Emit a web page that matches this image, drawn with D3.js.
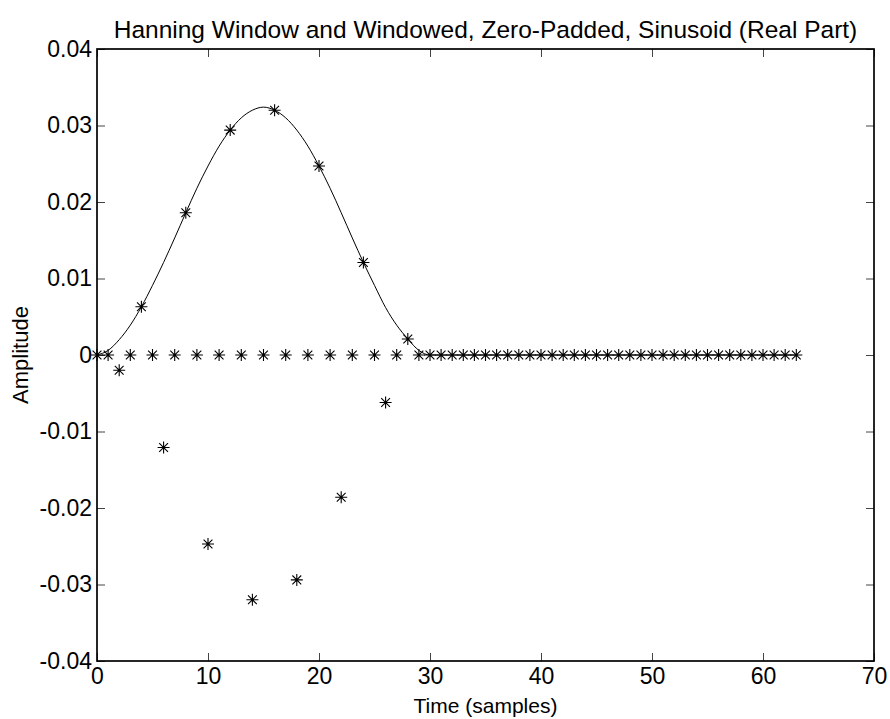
<!DOCTYPE html>
<html>
<head>
<meta charset="utf-8">
<script src="https://cdn.jsdelivr.net/npm/d3@7"></script>
<style>
  body { margin: 0; background: #fff; }
  svg { display: block; font-family: "Liberation Sans", Arial, Helvetica, sans-serif; }
</style>
</head>
<body>
<svg id="chart" width="890" height="719"></svg>
<script>
// sample index 0..63 (31 window samples + zero padding)
var samples = [0,1,2,3,4,5,6,7,8,9,10,11,12,13,14,15,16,17,18,19,20,21,22,23,24,25,26,27,28,29,30,31,
               32,33,34,35,36,37,38,39,40,41,42,43,44,45,46,47,48,49,50,51,52,53,54,55,56,57,58,59,60,61,62,63];

// hanning window (solid line)
var windowVals = [0, 0.0006, 0.0020, 0.0039, 0.0063, 0.0091, 0.0121, 0.0153, 0.0186, 0.0218,
                  0.0247, 0.0273, 0.0294, 0.0310, 0.0320, 0.0324, 0.0320, 0.0310, 0.0294, 0.0273,
                  0.0247, 0.0218, 0.0186, 0.0153, 0.0121, 0.0091, 0.0062, 0.0039, 0.0021, 0.0006,
                  0, 0, 0, 0, 0, 0, 0, 0, 0, 0, 0, 0, 0, 0, 0, 0, 0, 0, 0, 0, 0, 0, 0, 0, 0, 0, 0, 0, 0, 0, 0, 0, 0, 0];

// windowed sinusoid, real part (asterisks)
var signalVals = [0, 0, -0.0020, 0, 0.0063, 0, -0.0121, 0, 0.0186, 0,
                  -0.0247, 0, 0.0294, 0, -0.0320, 0, 0.0320, 0, -0.0294, 0,
                  0.0247, 0, -0.0186, 0, 0.0121, 0, -0.0062, 0, 0.0021, 0,
                  0, 0, 0, 0, 0, 0, 0, 0, 0, 0, 0, 0, 0, 0, 0, 0, 0, 0, 0, 0, 0, 0, 0, 0, 0, 0, 0, 0, 0, 0, 0, 0, 0, 0];

var xTicks = [0, 10, 20, 30, 40, 50, 60, 70];
var yTicks = [-0.04, -0.03, -0.02, -0.01, 0, 0.01, 0.02, 0.03, 0.04];

var titleText = "Hanning Window and Windowed, Zero-Padded, Sinusoid (Real Part)";
var xLabel = "Time (samples)";
var yLabel = "Amplitude";

var svg = d3.select("#chart");
var margin = {top: 49, right: 16, bottom: 58, left: 97};
var width = 890 - margin.left - margin.right;
var height = 719 - margin.top - margin.bottom;
var g = svg.append("g").attr("transform", "translate(" + margin.left + "," + margin.top + ")");

var xscale = d3.scaleLinear().domain([0, 70]).range([0, width]);
var yscale = d3.scaleLinear().domain([-0.04, 0.04]).range([height, 0]);

var fmt = function(d) { return d === 0 ? "0" : d.toFixed(2); };
var tickLen = 8;

// axes, ticks pointing inward on all four sides
var gx = g.append("g").attr("class", "x_axis")
    .attr("transform", "translate(0," + height + ")")
    .call(d3.axisBottom(xscale).tickValues(xTicks).tickSizeInner(-tickLen).tickSizeOuter(0).tickPadding(7).tickFormat(d3.format("d")));
var gy = g.append("g").attr("class", "y_axis")
    .call(d3.axisLeft(yscale).tickValues(yTicks).tickSizeInner(-tickLen).tickSizeOuter(0).tickPadding(5).tickFormat(fmt));
var gt = g.append("g")
    .call(d3.axisTop(xscale).tickValues(xTicks).tickSizeInner(-tickLen).tickSizeOuter(0).tickFormat(""));
var gr = g.append("g")
    .attr("transform", "translate(" + width + ",0)")
    .call(d3.axisRight(yscale).tickValues(yTicks).tickSizeInner(-tickLen).tickSizeOuter(0).tickFormat(""));

[gx, gy, gt, gr].forEach(function(a) {
    a.select(".domain").remove();
    a.selectAll(".tick line").attr("stroke", "#444").attr("stroke-width", 1);
    a.selectAll("text").attr("font-size", 23).attr("fill", "#000")
        .attr("font-family", "'Liberation Sans', Arial, sans-serif");
});
gx.selectAll("text").attr("dy", "0.71em");

// hanning curve
var line = d3.line()
    .x(function(d, i) { return xscale(samples[i]); })
    .y(function(d) { return yscale(d); })
    .curve(d3.curveMonotoneX);

g.append("path")
    .datum(windowVals)
    .attr("d", line)
    .attr("fill", "none")
    .attr("stroke", "#000")
    .attr("stroke-width", 1);

// asterisk markers
var r = 6, rd = 4.4;
var star = "M" + (-r) + ",0H" + r + "M0," + (-r) + "V" + r +
           "M" + (-rd) + "," + (-rd) + "L" + rd + "," + rd +
           "M" + (-rd) + "," + rd + "L" + rd + "," + (-rd);

g.append("g")
    .selectAll("path")
    .data(signalVals)
    .enter().append("path")
    .attr("transform", function(d, i) { return "translate(" + xscale(samples[i]) + "," + yscale(d) + ")"; })
    .attr("d", star)
    .attr("fill", "none")
    .attr("stroke", "#000")
    .attr("stroke-width", 1.1);

// axes box
g.append("rect")
    .attr("x", 0).attr("y", 0)
    .attr("width", width).attr("height", height)
    .attr("fill", "none")
    .attr("stroke", "#000")
    .attr("stroke-width", 1.7);

// title and labels
svg.append("text")
    .attr("x", margin.left + width / 2)
    .attr("y", 38)
    .attr("text-anchor", "middle")
    .attr("font-size", 24.5)
    .text(titleText);

svg.append("text")
    .attr("x", margin.left + width / 2)
    .attr("y", 713)
    .attr("text-anchor", "middle")
    .attr("font-size", 21)
    .text(xLabel);

svg.append("text")
    .attr("transform", "translate(28," + (margin.top + yscale(0)) + ") rotate(-90)")
    .attr("text-anchor", "middle")
    .attr("font-size", 22)
    .text(yLabel);
</script>
</body>
</html>
